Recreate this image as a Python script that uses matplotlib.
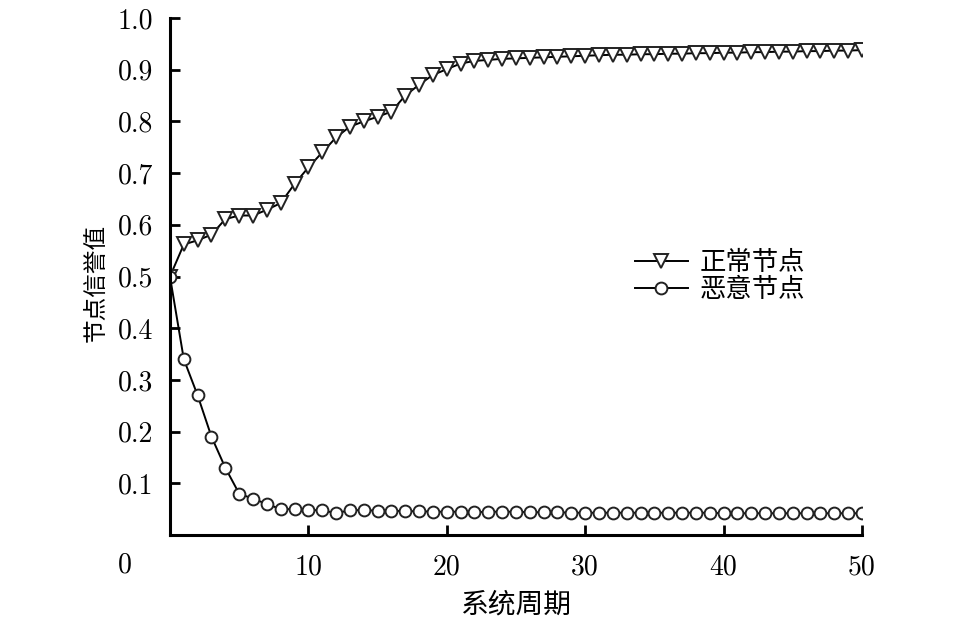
import matplotlib
matplotlib.use("Agg")
import matplotlib.pyplot as plt
import numpy as np

plt.rcParams['font.family'] = ['Noto Sans CJK SC', 'DejaVu Sans']

# system period 0..50
periods = np.arange(0, 51)
normal = [0.50, 0.562, 0.570, 0.581, 0.611, 0.618, 0.618, 0.629, 0.642, 0.679,
          0.711, 0.740, 0.769, 0.790, 0.800, 0.809, 0.819, 0.850, 0.871, 0.890,
          0.901, 0.912, 0.917, 0.919, 0.921, 0.922, 0.923, 0.924, 0.925, 0.926,
          0.927, 0.928, 0.929, 0.929, 0.930, 0.930, 0.931, 0.931, 0.932, 0.932,
          0.933, 0.933, 0.934, 0.934, 0.935, 0.935, 0.936, 0.936, 0.937, 0.937,
          0.938]
malicious = [0.50, 0.34, 0.27, 0.19, 0.13, 0.08, 0.07, 0.06, 0.05, 0.05,
             0.048, 0.048, 0.042, 0.048, 0.048, 0.047, 0.047, 0.046, 0.046, 0.045,
             0.045, 0.045, 0.044, 0.045, 0.045, 0.045, 0.044, 0.044, 0.044, 0.043,
             0.043, 0.043, 0.043, 0.043, 0.043, 0.043, 0.043, 0.043, 0.043, 0.043,
             0.042, 0.042, 0.042, 0.042, 0.042, 0.042, 0.042, 0.042, 0.042, 0.042,
             0.042]
series_names = ["正常节点", "恶意节点"]
x_ticks = [10, 20, 30, 40, 50]
y_ticks = [0.1, 0.2, 0.3, 0.4, 0.5, 0.6, 0.7, 0.8, 0.9, 1.0]

fig = plt.figure(figsize=(9.57, 6.26), dpi=100)
ax = fig.add_axes([0.1776, 0.1454, 0.7231, 0.8258])

ax.plot(periods, normal, color='black', lw=1.4, marker='v', ms=9.5,
        mfc='white', mec='#222222', mew=1.4, label=series_names[0])
ax.plot(periods, malicious, color='black', lw=1.4, marker='o', ms=8.5,
        mfc='white', mec='#222222', mew=1.4, label=series_names[1])

ax.set_xlim(0, 50)
ax.set_ylim(0, 1.0)

for s in ["top", "right"]:
    ax.spines[s].set_visible(False)
for s in ["left", "bottom"]:
    ax.spines[s].set_linewidth(2.2)

ax.set_xticks(x_ticks, [str(t) for t in x_ticks])
ax.set_yticks(y_ticks, ["%.1f" % t for t in y_ticks])
ax.tick_params(direction='in', length=7, width=2, labelsize=20)
ax.tick_params(axis='x', pad=14)
ax.tick_params(axis='y', pad=12)
for lab in ax.get_xticklabels() + ax.get_yticklabels():
    lab.set_fontfamily('cmr10')

# origin label sits apart from the axis corner
ax.text(-0.065, -0.058, "0", transform=ax.transAxes, fontsize=20,
        fontfamily='cmr10', ha='center', va='center')

ax.set_xlabel("系统周期", fontsize=20, labelpad=6)
ax.set_ylabel("节点信誉值", fontsize=17)
ax.yaxis.set_label_coords(-0.09, 0.487)

ax.legend(loc='upper left', bbox_to_anchor=(0.653, 0.579), frameon=False,
          fontsize=19, handlelength=2.0, handletextpad=0.45, labelspacing=0.0,
          borderpad=0)

fig.savefig("out.png", dpi=100)
